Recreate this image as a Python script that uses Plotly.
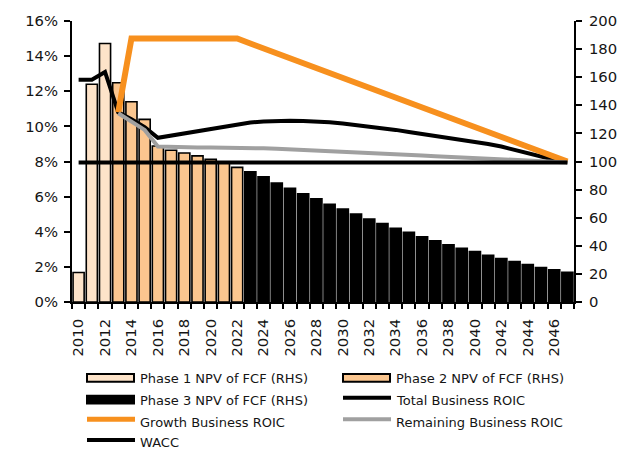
import plotly.graph_objects as go

# ---- data -------------------------------------------------------------
years = list(range(2010, 2048))

phase1_years = [2010, 2011, 2012]
phase1_npv = [21.0, 155.0, 184.0]

phase2_years = list(range(2013, 2023))
phase2_npv = [156.0, 142.5, 130.0, 111.0, 108.0, 106.0, 104.0, 101.5, 99.5, 95.8]

phase3_years = list(range(2023, 2048))
phase3_npv = [92.6, 89.1, 84.6, 81.0, 77.0, 73.4, 69.6, 66.1, 62.6, 59.1,
              55.8, 52.4, 49.6, 46.4, 43.6, 40.8, 38.2, 35.9, 33.3, 30.9,
              28.8, 26.7, 24.6, 23.0, 21.1]

total_roic = [12.65, 12.65, 13.1, 10.8, 10.4, 9.95, 9.35, 9.47, 9.6, 9.73,
              9.86, 9.99, 10.12, 10.22, 10.28, 10.31, 10.32, 10.31, 10.29, 10.24,
              10.16, 10.08, 10.0, 9.9, 9.8, 9.68, 9.57, 9.45, 9.33, 9.2,
              9.1, 9.0, 8.85, 8.65, 8.46, 8.3, 8.1, 7.95]

growth_years = list(range(2013, 2048))
growth_roic = [10.8, 15.0, 15.0, 15.0, 15.0, 15.0, 15.0, 15.0, 15.0, 15.0,
               14.72, 14.44, 14.16, 13.88, 13.6, 13.32, 13.04, 12.76, 12.48, 12.2,
               11.92, 11.64, 11.36, 11.08, 10.8, 10.52, 10.24, 9.96, 9.68, 9.4,
               9.12, 8.84, 8.56, 8.28, 8.0]

remaining_years = list(range(2013, 2048))
remaining_roic = [10.75, 10.3, 9.8, 8.85, 8.82, 8.8, 8.8, 8.8, 8.8, 8.8,
                  8.78, 8.75, 8.72, 8.69, 8.66, 8.63, 8.6, 8.57, 8.54, 8.5,
                  8.46, 8.42, 8.38, 8.34, 8.3, 8.26, 8.22, 8.18, 8.14, 8.1,
                  8.06, 8.03, 8.0, 7.97, 7.95]

wacc_years = [2010, 2047]
wacc = [7.95, 7.95]

x_tick_years = list(range(2010, 2047, 2))
left_ticks = list(range(0, 17, 2))
right_ticks = list(range(0, 201, 20))

# ---- styling ----------------------------------------------------------
FONT = "DejaVu Sans"
TXT = "#151515"
PH1 = "#FDE3C9"
PH2 = "#FBC68F"
PH3 = "#000000"
ORANGE = "#F7901E"
GREY = "#A0A0A0"

W, H = 629, 450
L, R, T, B = 72, 55, 17, 148
PW, PH = W - L - R, H - T - B


def px_x(px):
    return (px - L) / PW


def px_y(py):
    return (T + PH - py) / PH


fig = go.Figure()

bar_line = dict(color="#000000", width=1.6)
for name, xs, ys, col in [
    ("Phase 1 NPV of FCF (RHS)", phase1_years, phase1_npv, PH1),
    ("Phase 2 NPV of FCF (RHS)", phase2_years, phase2_npv, PH2),
    ("Phase 3 NPV of FCF (RHS)", phase3_years, phase3_npv, PH3),
]:
    fig.add_trace(go.Bar(x=xs, y=ys, name=name, width=0.84,
                         marker=dict(color=col, line=bar_line),
                         yaxis="y", showlegend=False))

fig.add_trace(go.Scatter(x=years, y=total_roic, name="Total Business ROIC",
                         mode="lines", yaxis="y2", showlegend=False,
                         line=dict(color="#000000", width=4)))
fig.add_trace(go.Scatter(x=growth_years, y=growth_roic, name="Growth Business ROIC",
                         mode="lines", yaxis="y2", showlegend=False,
                         line=dict(color=ORANGE, width=6)))
fig.add_trace(go.Scatter(x=remaining_years, y=remaining_roic,
                         name="Remaining Business ROIC", mode="lines", yaxis="y2",
                         showlegend=False, line=dict(color=GREY, width=4)))
fig.add_trace(go.Scatter(x=wacc_years, y=wacc, name="WACC", mode="lines",
                         yaxis="y2", showlegend=False,
                         line=dict(color="#000000", width=4)))

tickfont = dict(family=FONT, size=14.8, color=TXT)

fig.update_layout(
    width=W, height=H,
    margin=dict(l=L, r=R, t=T, b=B),
    paper_bgcolor="white", plot_bgcolor="white",
    barmode="overlay",
    xaxis=dict(
        range=[2009.5, 2047.5], tickmode="array", tickvals=x_tick_years,
        ticktext=[str(y) for y in x_tick_years], tickangle=-90,
        ticks="", showgrid=False, zeroline=False, ticklabelstandoff=9,
        showline=True, linecolor="#000000", linewidth=2,
        tickfont=tickfont,
        minor=dict(ticks="outside", tick0=2009.5, dtick=1, ticklen=5,
                   tickwidth=2, tickcolor="#000000", showgrid=False),
    ),
    yaxis=dict(
        range=[0, 200], tickmode="array", tickvals=right_ticks, side="right",
        ticks="outside", ticklen=6, tickwidth=2, tickcolor="#000000",
        ticklabelstandoff=4,
        showline=True, linecolor="#000000", linewidth=2,
        showgrid=False, zeroline=False, tickfont=tickfont,
    ),
    yaxis2=dict(
        range=[0, 16], tickmode="array", tickvals=left_ticks,
        ticktext=[f"{v}%" for v in left_ticks], side="left", overlaying="y",
        ticks="outside", ticklen=6, tickwidth=2, tickcolor="#000000",
        ticklabelstandoff=3,
        showline=True, linecolor="#000000", linewidth=2,
        showgrid=False, zeroline=False, tickfont=tickfont,
    ),
)

# ---- legend drawn below the plot -------------------------------------
legend_items = [
    # (label, kind, colour, symbol start x, row centre y)
    ("Phase 1 NPV of FCF (RHS)", "box", PH1, 87, 379),
    ("Phase 2 NPV of FCF (RHS)", "box", PH2, 343, 379),
    ("Phase 3 NPV of FCF (RHS)", "box", PH3, 87, 401),
    ("Total Business ROIC", "line", "#000000", 343, 401),
    ("Growth Business ROIC", "line", ORANGE, 87, 423),
    ("Remaining Business ROIC", "line", GREY, 343, 423),
    ("WACC", "line", "#000000", 87, 444),
]
for label, kind, col, sx, cy in legend_items:
    if kind == "box":
        fig.add_shape(type="rect", xref="paper", yref="paper",
                      x0=px_x(sx), x1=px_x(sx + 47), y0=px_y(cy - 4), y1=px_y(cy + 4),
                      fillcolor=col, line=dict(color="#000000", width=2))
    else:
        fig.add_shape(type="line", xref="paper", yref="paper",
                      x0=px_x(sx), x1=px_x(sx + 48), y0=px_y(cy - 2), y1=px_y(cy - 2),
                      line=dict(color=col, width=5 if col == ORANGE else 4))
    fig.add_annotation(xref="paper", yref="paper", x=px_x(sx + 51), y=px_y(cy + 1),
                       xanchor="left", yanchor="middle", showarrow=False,
                       text=label, font=dict(family=FONT, size=13, color=TXT))

fig.write_html("out.html")
